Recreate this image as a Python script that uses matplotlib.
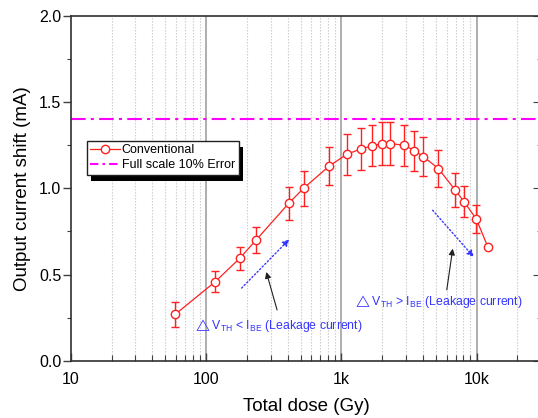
import matplotlib
matplotlib.use('Agg')
import matplotlib.pyplot as plt
import matplotlib.patches as patches
from matplotlib.lines import Line2D
from matplotlib.ticker import FixedLocator, FixedFormatter, MultipleLocator, NullFormatter

plt.rcParams['font.family'] = ['Liberation Sans', 'DejaVu Sans']
plt.rcParams['mathtext.default'] = 'regular'

# === data ===
dose = [59, 117, 177, 234, 408, 525, 815, 1100, 1400, 1690,
        1990, 2290, 2920, 3460, 4050, 5220, 6940, 8080, 9970, 12100]
shift = [0.269, 0.459, 0.594, 0.700, 0.913, 1.000, 1.130, 1.198, 1.229, 1.246,
         1.260, 1.260, 1.250, 1.219, 1.184, 1.115, 0.991, 0.923, 0.822, 0.662]
shift_err = [0.073, 0.062, 0.068, 0.077, 0.097, 0.100, 0.111, 0.120, 0.123, 0.119,
             0.126, 0.126, 0.119, 0.116, 0.114, 0.106, 0.097, 0.090, 0.079, 0.004]
full_scale_error = 1.4

x_ticks = [10, 100, 1000, 10000]
x_tick_labels = ['10', '100', '1k', '10k']

red = '#ff2020'
magenta = '#ff00ff'
blue = '#3535ff'

fig = plt.figure(figsize=(5.38, 4.18), dpi=100)
ax = fig.add_axes([71 / 538, 1 - 360.7 / 418, 470 / 538, (360.7 - 16) / 418])

ax.set_xscale('log')
ax.set_xlim(10, 30000)
ax.set_ylim(0, 2.0)

# === vertical grid ===
minor_x = [m * 10 ** e for e in range(1, 5) for m in range(2, 10)]
for xv in minor_x:
    ax.axvline(xv, color='#c8c8c8', lw=0.8, ls=(0, (1.2, 1.5)), zorder=0)
for xv in [100, 1000, 10000]:
    ax.axvline(xv, color='#a8a8a8', lw=1.3, zorder=0)

# === limit line ===
dashdot = (0, (7, 2.5, 1.5, 2.5))
ax.axhline(full_scale_error, color=magenta, lw=1.5, ls=dashdot, zorder=2)

# === data ===
ax.errorbar(dose, shift, yerr=shift_err, color=red, lw=0.9, marker='o',
            ms=6, mfc='white', mec=red, mew=1.0, capsize=3, capthick=1.0,
            elinewidth=1.0, zorder=3)

# === annotations ===
ax.annotate('', xy=(426, 0.716), xytext=(177, 0.41),
            arrowprops=dict(arrowstyle='-|>', color=blue, lw=1.0, ls=':',
                            mutation_scale=10))
ax.annotate('', xy=(275, 0.53), xytext=(339, 0.279),
            arrowprops=dict(arrowstyle='-|>', color='#202020', lw=0.8,
                            mutation_scale=9))
ax.text(80, 0.207, r'$\triangle$V$_{TH}$ < I$_{BE}$ (Leakage current)', color=blue,
        fontsize=8.8, va='center', ha='left')

ax.annotate('', xy=(9860, 0.589), xytext=(4592, 0.885),
            arrowprops=dict(arrowstyle='-|>', color=blue, lw=1.0, ls=':',
                            mutation_scale=10))
ax.annotate('', xy=(6714, 0.666), xytext=(5986, 0.395),
            arrowprops=dict(arrowstyle='-|>', color='#202020', lw=0.8,
                            mutation_scale=9))
ax.text(1211, 0.346, r'$\triangle$V$_{TH}$ > I$_{BE}$ (Leakage current)', color=blue,
        fontsize=8.8, va='center', ha='left')

# === axes styling ===
ax.xaxis.set_major_locator(FixedLocator(x_ticks))
ax.xaxis.set_major_formatter(FixedFormatter(x_tick_labels))
ax.xaxis.set_minor_locator(FixedLocator(minor_x))
ax.xaxis.set_minor_formatter(NullFormatter())
ax.yaxis.set_major_locator(MultipleLocator(0.5))
ax.yaxis.set_minor_locator(MultipleLocator(0.25))
ax.yaxis.set_major_formatter(plt.FuncFormatter(lambda v, p: f'{v:.1f}'))

ax.tick_params(axis='x', which='major', direction='in', length=6, width=1.0,
               labelsize=11.5, pad=8, color='#404040')
ax.tick_params(axis='x', which='minor', direction='in', length=4, width=0.8,
               color='#404040')
ax.tick_params(axis='y', which='major', direction='out', length=6, width=1.0,
               labelsize=11.5, pad=1, color='#404040')
ax.tick_params(axis='y', which='minor', direction='out', length=3, width=0.8,
               color='#404040')

right = ax.secondary_yaxis('right')
right.yaxis.set_major_locator(MultipleLocator(0.5))
right.yaxis.set_minor_locator(MultipleLocator(0.25))
right.tick_params(which='major', direction='in', length=6, labelright=False, color='#404040')
right.tick_params(which='minor', direction='in', length=3, labelright=False, color='#404040')

for s in ax.spines.values():
    s.set_color('#303030')
    s.set_linewidth(1.2)

ax.set_xlabel('Total dose (Gy)', fontsize=13.5, labelpad=8)
ax.set_ylabel('Output current shift (mA)', fontsize=13.5, labelpad=6)

# === legend with a solid offset shadow ===
h_conv = Line2D([], [], color=red, lw=0.9, marker='o', ms=6, mfc='white',
                mec=red, mew=1.0)
h_full = Line2D([], [], color=magenta, lw=1.5, ls=(0, (4, 2, 1.2, 2)))
leg = ax.legend([h_conv, h_full], ['Conventional', 'Full scale 10% Error'],
                loc='upper left', bbox_to_anchor=(86.7 / 538, 1 - 140.7 / 418),
                bbox_transform=fig.transFigure, fontsize=9, frameon=True,
                fancybox=False, edgecolor='#202020', framealpha=1,
                handlelength=2.4, handletextpad=0.1, borderpad=0.3,
                labelspacing=0.2, borderaxespad=0)
leg.get_frame().set_linewidth(1.0)
leg.set_zorder(5)

fig.canvas.draw()
bb = leg.get_window_extent()
shadow = patches.Rectangle((bb.x0 + 4, bb.y0 - 6), bb.width, bb.height,
                           transform=None, facecolor='black', edgecolor='none')
ax.add_artist(shadow)
shadow.set_zorder(4.5)

fig.savefig('out.png', dpi=100)
